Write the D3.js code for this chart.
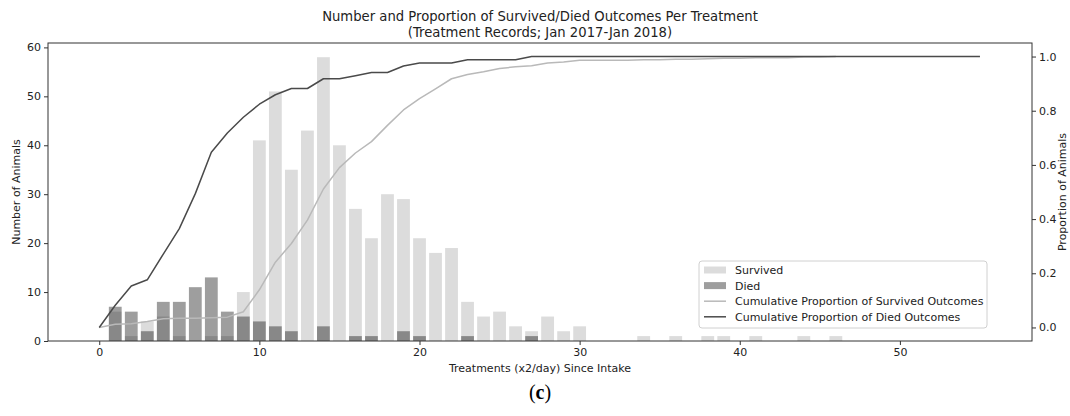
<!DOCTYPE html>
<html><head><meta charset="utf-8">
<script src="https://cdn.jsdelivr.net/npm/d3@7/dist/d3.min.js"></script>
<style>
html,body{margin:0;padding:0;background:#fff;}
svg{display:block;font-family:"DejaVu Sans",sans-serif;}
</style></head>
<body>
<script>
// ---- data ----
const survivedX = [1,2,3,4,5,6,7,8,9,10,11,12,13,14,15,16,17,18,19,20,21,22,23,24,25,26,27,28,29,30,34,36,38,39,41,44,46];
const survivedCount = [6,1,4,5,1,0,1,1,10,41,51,35,43,58,40,27,21,30,29,21,18,19,8,5,6,3,2,5,2,3,1,1,1,1,1,1,1];
const diedX = [1,2,3,4,5,6,7,8,9,10,11,12,14,16,17,19,20,23,27];
const diedCount = [7,6,2,8,8,11,13,6,5,4,3,2,3,1,1,2,1,1,1];
const cumSurvivedX = [0,1,2,3,4,5,6,7,8,9,10,11,12,13,14,15,16,17,18,19,20,21,22,23,24,25,26,27,28,29,30,31,32,33,34,35,36,37,38,39,40,41,42,43,44,45,46];
const cumSurvived = [0,0.012,0.014,0.022,0.032,0.034,0.034,0.036,0.038,0.058,0.139,0.241,0.310,0.396,0.511,0.590,0.644,0.686,0.746,0.803,0.845,0.881,0.918,0.934,0.944,0.956,0.962,0.966,0.976,0.980,0.986,0.986,0.986,0.986,0.988,0.988,0.990,0.990,0.992,0.994,0.994,0.996,0.996,0.996,0.998,0.998,1.0];
const cumDiedX = [0,1,2,3,4,5,6,7,8,9,10,11,12,13,14,15,16,17,18,19,20,21,22,23,24,25,26,27,55];
const cumDied = [0,0.082,0.153,0.176,0.271,0.365,0.494,0.647,0.718,0.776,0.824,0.859,0.882,0.882,0.918,0.918,0.929,0.941,0.941,0.965,0.976,0.976,0.976,0.988,0.988,0.988,0.988,1.0,1.0];
const xTicks = [0,10,20,30,40,50];
const yLeftTicks = [0,10,20,30,40,50,60];
const yRightTicks = [0,0.2,0.4,0.6,0.8,1.0];
const titleLines = ["Number and Proportion of Survived/Died Outcomes Per Treatment","(Treatment Records; Jan 2017-Jan 2018)"];
const legendLabels = ["Survived","Died","Cumulative Proportion of Survived Outcomes","Cumulative Proportion of Died Outcomes"];

// ---- layout ----
const W = 1070, H = 416;
const L = 48, R = 1032, T = 43, B = 341;
const svg = d3.select("body").append("svg").attr("width", W).attr("height", H);

const x = d3.scaleLinear().domain([-3.2, 58.25]).range([L, R]);
const yL = d3.scaleLinear().domain([0, 60.9]).range([B, T]);
const yR = d3.scaleLinear().domain([-0.05, 1.05]).range([B, T]);
const bw = x(0.8) - x(0);

const survColor = "#d3d3d3", survOp = 0.8;
const diedColor = "#000", diedOp = 0.38;
const lineSurv = "#b9b9b9", lineDied = "#4a4a4a";
const axisColor = "#333", textColor = "#222";

// bars
svg.append("g").selectAll("rect").data(survivedX.map((d,i)=>({x:d,v:survivedCount[i]})).filter(d=>d.v>0))
  .join("rect").attr("x", d=>x(d.x)-bw/2).attr("width", bw)
  .attr("y", d=>yL(d.v)).attr("height", d=>yL(0)-yL(d.v))
  .attr("fill", survColor).attr("fill-opacity", survOp);
svg.append("g").selectAll("rect").data(diedX.map((d,i)=>({x:d,v:diedCount[i]})))
  .join("rect").attr("x", d=>x(d.x)-bw/2).attr("width", bw)
  .attr("y", d=>yL(d.v)).attr("height", d=>yL(0)-yL(d.v))
  .attr("fill", diedColor).attr("fill-opacity", diedOp);

// lines
const line = d3.line().x(d=>x(d[0])).y(d=>yR(d[1]));
svg.append("path").datum(cumSurvivedX.map((d,i)=>[d,cumSurvived[i]]))
  .attr("d", line).attr("fill","none").attr("stroke", lineSurv).attr("stroke-width",1.5).attr("stroke-linejoin","round");
svg.append("path").datum(cumDiedX.map((d,i)=>[d,cumDied[i]]))
  .attr("d", line).attr("fill","none").attr("stroke", lineDied).attr("stroke-width",1.5).attr("stroke-linejoin","round");

// frame
svg.append("rect").attr("x",L).attr("y",T).attr("width",R-L).attr("height",B-T)
  .attr("fill","none").attr("stroke",axisColor).attr("stroke-width",1);

// axes
function styleAxis(g){
  g.select(".domain").remove();
  g.selectAll(".tick line").attr("stroke",axisColor);
  g.selectAll(".tick text").attr("fill",textColor).style("font-size","11px").style("font-family","DejaVu Sans");
}
svg.append("g").attr("transform",`translate(0,${B})`)
  .call(d3.axisBottom(x).tickValues(xTicks).tickFormat(d3.format("d")).tickSize(4).tickPadding(3)).call(styleAxis);
svg.append("g").attr("transform",`translate(${L},0)`)
  .call(d3.axisLeft(yL).tickValues(yLeftTicks).tickFormat(d3.format("d")).tickSize(4).tickPadding(3)).call(styleAxis);
svg.append("g").attr("transform",`translate(${R},0)`)
  .call(d3.axisRight(yR).tickValues(yRightTicks).tickFormat(d3.format(".1f")).tickSize(4).tickPadding(3)).call(styleAxis);

// titles & labels
svg.append("g").selectAll("text").data(titleLines).join("text")
  .attr("x",(L+R)/2).attr("y",(d,i)=>21+i*16).attr("text-anchor","middle")
  .attr("fill",textColor).style("font-size","13.2px").text(d=>d);
svg.append("text").attr("x",(L+R)/2).attr("y",372).attr("text-anchor","middle")
  .attr("fill",textColor).style("font-size","11px").text("Treatments (x2/day) Since Intake");
svg.append("text").attr("transform",`translate(20,${(T+B)/2}) rotate(-90)`).attr("text-anchor","middle")
  .attr("fill",textColor).style("font-size","11px").text("Number of Animals");
svg.append("text").attr("transform",`translate(1066,${(T+B)/2}) rotate(-90)`).attr("text-anchor","middle")
  .attr("fill",textColor).style("font-size","11px").text("Proportion of Animals");
const cap = svg.append("text").attr("x",(L+R)/2).attr("y",399).attr("text-anchor","middle")
  .attr("fill","#000").style("font-family","Liberation Serif").style("font-size","20px");
cap.append("tspan").text("(");
cap.append("tspan").attr("font-weight","bold").text("c");
cap.append("tspan").text(")");

// legend
const lg = svg.append("g").attr("transform","translate(699,261)");
lg.append("rect").attr("width",288).attr("height",67).attr("rx",3)
  .attr("fill","#fff").attr("fill-opacity",0.8).attr("stroke","#d0d0d0").attr("stroke-width",1);
legendLabels.forEach((t,i)=>{
  const cy = 9 + i*15.6;
  if(i===0) lg.append("rect").attr("x",5).attr("y",cy-3.5).attr("width",22).attr("height",7).attr("fill",survColor).attr("fill-opacity",survOp);
  if(i===1) lg.append("rect").attr("x",5).attr("y",cy-3.5).attr("width",22).attr("height",7).attr("fill",diedColor).attr("fill-opacity",diedOp);
  if(i===2) lg.append("line").attr("x1",5).attr("x2",27).attr("y1",cy).attr("y2",cy).attr("stroke",lineSurv).attr("stroke-width",1.5);
  if(i===3) lg.append("line").attr("x1",5).attr("x2",27).attr("y1",cy).attr("y2",cy).attr("stroke",lineDied).attr("stroke-width",1.5);
  lg.append("text").attr("x",36).attr("y",cy+4).attr("fill",textColor).style("font-size","11px").text(t);
});
</script>
</body></html>
